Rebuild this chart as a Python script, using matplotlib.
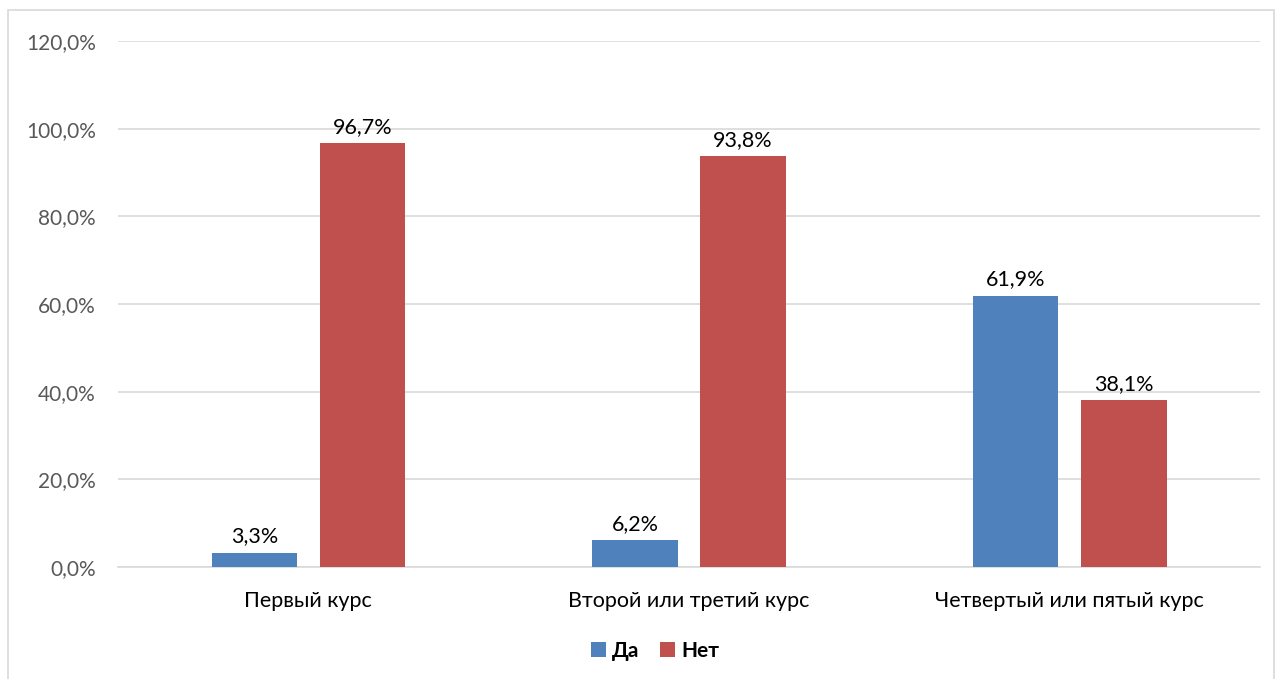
#!/usr/bin/env python

import matplotlib
matplotlib.use("Agg")
import matplotlib.pyplot as plt
from matplotlib.patches import Rectangle
import numpy as np

categories = ["Первый курс", "Второй или третий курс", "Четвертый или пятый курс"]
yes_values = [3.3, 6.2, 61.9]
no_values = [96.7, 93.8, 38.1]
series_names = ["Да", "Нет"]
y_ticks = [0, 20, 40, 60, 80, 100, 120]


def fmt(v):
    return f"{v:.1f}%".replace(".", ",")


def main() -> int:
    plt.rcParams["font.family"] = ["Lato", "DejaVu Sans"]
    fig = plt.figure(figsize=(12.82, 6.79), dpi=100)
    ax = fig.add_axes([0.092, 0.165, 0.891, 0.7746])

    # outer frame like the office chart border
    fig.patches.append(Rectangle((8 / 1282, -0.05), 1266 / 1282, 1.05 - 10 / 679,
                                 transform=fig.transFigure, fill=False,
                                 edgecolor="#D9D9D9", linewidth=1.2))

    x = np.arange(len(categories))
    w = 0.224
    off = 0.142
    b1 = ax.bar(x - off, yes_values, w, color="#4F81BD", label=series_names[0], zorder=3)
    b2 = ax.bar(x + off, no_values, w, color="#C0504D", label=series_names[1], zorder=3)

    for bars, vals in ((b1, yes_values), (b2, no_values)):
        for b, v in zip(bars, vals):
            ax.text(b.get_x() + b.get_width() / 2, v + 1.4, fmt(v),
                    ha="center", va="bottom", fontsize=15.5, color="#000000")

    ax.set_xlim(-0.5, 2.5)
    ax.set_ylim(0, 120)
    ax.set_yticks(y_ticks)
    ax.set_yticklabels([fmt(t) for t in y_ticks], fontsize=15, color="#595959")
    ax.set_xticks(x)
    ax.set_xticklabels(categories, fontsize=15.5, color="#000000")
    ax.tick_params(axis="x", length=0, pad=17)
    ax.tick_params(axis="y", length=0, pad=16)
    ax.grid(axis="y", color="#D9D9D9", linewidth=1.2, zorder=0)
    for s in ("top", "right", "left"):
        ax.spines[s].set_visible(False)
    ax.spines["bottom"].set_color("#D9D9D9")
    ax.spines["bottom"].set_linewidth(1.2)

    fig.legend(loc="center", bbox_to_anchor=(655 / 1282, 1 - 651 / 679),
               ncol=2, frameon=False, handlelength=0.7, handleheight=0.7,
               handletextpad=0.3, columnspacing=1.0,
               prop={"size": 15, "weight": "bold"})

    fig.savefig("out.png", dpi=100)
    return 0


if __name__ == "__main__":
    main()
